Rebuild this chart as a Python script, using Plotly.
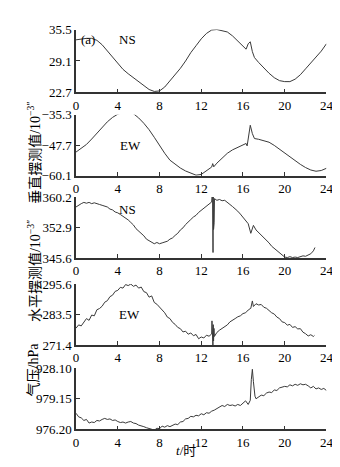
import plotly.graph_objects as go

# ---------------- data ----------------
# Panel 1: vertical pendulum NS
t_vns = [0, 0.5, 1, 1.5, 2, 2.5, 3, 3.5, 4, 4.5, 5, 5.5, 6, 6.5, 7, 7.5, 8, 8.5, 9, 9.5,
         10, 10.5, 11, 11.5, 12, 12.5, 13, 13.5, 14, 14.5, 15, 15.5, 16, 16.3, 16.5, 16.7,
         16.9, 17.1, 17.5, 18, 18.5, 19, 19.5, 20, 20.5, 21, 21.5, 22, 22.5, 23, 23.5, 24]
v_vns = [33.4, 33.6, 33.7, 33.7, 33.3, 32.4, 31.2, 29.9, 28.6, 27.4, 26.5, 25.7, 25.0, 24.2,
         23.3, 22.9, 23.0, 23.8, 25.0, 26.3, 27.6, 29.1, 30.8, 32.2, 33.6, 34.7, 35.4, 35.5,
         35.3, 35.0, 34.2, 33.2, 32.2, 31.5, 32.6, 33.0, 31.0, 29.8, 28.8, 27.6, 26.6, 25.7,
         25.1, 24.9, 24.9, 25.4, 26.3, 27.5, 28.7, 29.8, 31.1, 32.6]

# Panel 2: vertical pendulum EW
t_vew = [0, 0.5, 1, 1.5, 2, 2.5, 3, 3.5, 4, 4.5, 5, 5.5, 6, 6.5, 7, 7.5, 8, 8.5, 9, 9.5,
         10, 10.5, 11, 11.5, 12, 12.5, 13, 13.1, 13.2, 13.5, 14, 14.5, 15, 15.5, 16, 16.3,
         16.4, 16.7, 16.9, 17.1, 17.5, 18, 18.5, 19, 19.5, 20, 20.5, 21, 21.5, 22, 22.5,
         23, 23.5, 24]
v_vew = [-50.5, -49.0, -47.4, -45.2, -42.8, -40.4, -38.2, -36.4, -35.1, -34.4, -34.2, -34.9,
         -36.6, -38.8, -41.4, -44.5, -47.8, -51.0, -53.8, -55.6, -57.0, -58.2, -59.2, -59.9,
         -59.6, -58.2, -56.6, -55.2, -56.5, -55.0, -52.8, -51.0, -49.6, -48.6, -47.6, -47.0,
         -48.0, -39.6, -43.0, -45.0, -45.3, -45.8, -46.5, -47.8, -49.4, -51.0, -52.6, -54.1,
         -55.5, -56.8, -57.8, -58.3, -58.0, -57.1]

# Panel 3: horizontal pendulum NS
t_hns = [0.00, 0.25, 0.50, 0.75, 1.00, 1.25, 1.50, 1.75, 2.00, 2.25, 2.50, 2.75, 3.00, 3.25,
         3.50, 3.75, 4.00, 4.25, 4.50, 4.75, 5.00, 5.25, 5.50, 5.75, 6.00, 6.25, 6.50, 6.75,
         7.00, 7.25, 7.50, 7.75, 8.00, 8.25, 8.50, 8.75, 9.00, 9.25, 9.50, 9.75, 10.00, 10.25,
         10.50, 10.75, 11.00, 11.25, 11.50, 11.75, 12.00, 12.25, 12.50, 12.75, 13.00,
         13.03, 13.06, 13.09, 13.11, 13.13, 13.15, 13.18, 13.21, 13.24, 13.27,
         13.50, 13.75, 14.00, 14.25, 14.50, 14.75, 15.00, 15.25, 15.50, 15.75, 16.00, 16.25,
         16.50, 16.75, 17.00, 17.25, 17.50, 17.75, 18.00, 18.25, 18.50, 18.75, 19.00, 19.25,
         19.50, 19.75, 20.00, 20.25, 20.50, 20.75, 21.00, 21.25, 21.50, 21.75, 22.00, 22.25,
         22.50, 22.75, 22.90]
v_hns = [357.8, 358.3, 358.6, 358.9, 358.7, 358.9, 358.6, 358.8, 358.5, 358.4, 358.2, 358.0,
         357.8, 357.3, 357.1, 356.6, 356.4, 356.0, 355.6, 355.3, 354.7, 354.1, 353.5, 352.6,
         352.1, 351.4, 350.9, 350.1, 349.7, 349.2, 349.0, 349.3, 349.0, 349.2, 349.5, 349.6,
         350.1, 350.4, 351.0, 351.5, 352.3, 352.8, 353.6, 354.1, 354.8, 355.4, 355.8, 356.5,
         357.0, 357.5, 358.1, 358.6, 359.0,
         360.3, 352.5, 360.5, 353.0, 346.9, 360.4, 352.4, 360.2, 354.0, 359.8,
         359.4, 359.6, 359.3, 359.4, 359.0, 358.4, 357.9, 357.4, 356.8, 356.1, 355.4, 354.7,
         353.8, 351.5, 353.4, 352.3, 351.7, 350.9, 350.4, 349.8, 349.2, 348.4, 347.9, 347.4,
         346.9, 346.4, 345.8, 345.7, 345.9, 345.7, 345.8, 345.7, 346.0, 346.1, 346.0, 346.4,
         346.6, 347.3, 348.1]

# Panel 4: horizontal pendulum EW
t_hew = [0.00, 0.25, 0.50, 0.75, 1.00, 1.25, 1.50, 1.75, 2.00, 2.25, 2.50, 2.75, 3.00, 3.25,
         3.50, 3.75, 4.00, 4.25, 4.50, 4.75, 5.00, 5.25, 5.50, 5.75, 6.00, 6.25, 6.50, 6.75,
         7.00, 7.25, 7.50, 7.75, 8.00, 8.25, 8.50, 8.75, 9.00, 9.25, 9.50, 9.75, 10.00, 10.25,
         10.50, 10.75, 11.00, 11.25, 11.50, 11.75, 12.00, 12.25, 12.50, 12.75, 13.00,
         13.03, 13.06, 13.09, 13.12, 13.15, 13.18, 13.22, 13.26,
         13.50, 13.75, 14.00, 14.25, 14.50, 14.75, 15.00, 15.25, 15.50, 15.75, 16.00, 16.25,
         16.50, 16.75, 16.90, 17.00, 17.25, 17.50, 17.75, 18.00, 18.25, 18.50, 18.75, 19.00,
         19.25, 19.50, 19.75, 20.00, 20.25, 20.50, 20.75, 21.00, 21.25, 21.50, 21.75, 22.00,
         22.25, 22.50, 22.75, 22.85]
v_hew = [278.1, 279.4, 279.0, 280.6, 281.9, 281.2, 283.3, 283.0, 285.4, 285.9, 286.8, 288.4,
         289.0, 290.6, 291.2, 292.7, 293.1, 294.3, 294.0, 295.4, 295.0, 295.6, 294.7, 295.2,
         294.0, 294.4, 292.6, 292.2, 290.4, 290.9, 288.3, 287.6, 286.5, 285.0, 284.2, 282.5,
         281.9, 280.4, 279.6, 278.4, 277.9, 276.6, 276.9, 275.7, 276.2, 275.1, 275.6, 273.9,
         274.6, 274.2, 275.3, 274.9, 275.8,
         281.0, 272.5, 280.4, 271.2, 279.5, 273.0, 278.0, 274.8,
         276.4, 277.3, 277.9, 278.8, 279.4, 280.6, 281.1, 281.9, 282.6, 283.0, 283.9, 284.2,
         285.3, 286.0, 288.9, 286.7, 287.8, 287.3, 287.5, 286.4, 286.0, 285.1, 284.2, 283.7,
         282.5, 281.9, 280.6, 280.3, 279.3, 279.6, 278.4, 278.7, 277.8, 277.9, 276.5, 275.9,
         275.0, 275.5, 274.8, 275.2]

# Panel 5: air pressure
t_p = [0.00, 0.25, 0.50, 0.75, 1.00, 1.25, 1.50, 1.75, 2.00, 2.25, 2.50, 2.75, 3.00, 3.25,
       3.50, 3.75, 4.00, 4.25, 4.50, 4.75, 5.00, 5.25, 5.50, 5.75, 6.00, 6.25, 6.50, 6.75,
       7.00, 7.25, 7.50, 7.75, 8.00, 8.25, 8.50, 8.75, 9.00, 9.25, 9.50, 9.75, 10.00, 10.25,
       10.50, 10.75, 11.00, 11.25, 11.50, 11.75, 12.00, 12.25, 12.50, 12.75, 13.00, 13.25,
       13.50, 13.75, 14.00, 14.25, 14.50, 14.75, 15.00, 15.25, 15.50, 15.75, 16.00, 16.25,
       16.50, 16.70, 16.80, 16.90, 17.00, 17.15, 17.25, 17.50, 17.75, 18.00, 18.25, 18.50,
       18.75, 19.00, 19.25, 19.50, 19.75, 20.00, 20.25, 20.50, 20.75, 21.00, 21.25, 21.50,
       21.75, 22.00, 22.25, 22.50, 22.75, 23.00, 23.25, 23.50, 23.75, 24.00]
v_p = [977.75, 977.40, 977.30, 977.05, 977.15, 976.80, 976.90, 976.85, 977.05, 977.00,
       977.15, 977.25, 977.15, 977.20, 977.05, 977.10, 976.95, 976.85, 976.90, 976.80,
       976.90, 976.95, 976.80, 976.75, 976.60, 976.55, 976.45, 976.35, 976.30, 976.20,
       976.10, 976.30, 976.25, 976.50, 976.40, 976.55, 976.45, 976.60, 976.70, 976.65,
       976.90, 976.95, 977.20, 977.25, 977.45, 977.40, 977.55, 977.50, 977.70, 977.60,
       977.80, 977.75, 977.95, 978.05, 978.20, 978.35, 978.50, 978.40, 978.60, 978.50,
       978.55, 978.45, 978.60, 978.50, 978.70, 978.95, 978.60, 979.00, 981.00, 982.00,
       980.80, 979.40, 979.15, 979.30, 979.50, 979.45, 979.70, 979.80, 979.75, 980.00,
       979.95, 980.20, 980.25, 980.35, 980.30, 980.50, 980.40, 980.55, 980.45, 980.60,
       980.50, 980.55, 980.40, 980.20, 980.35, 980.10, 980.20, 980.05, 980.15, 979.95]

x_ticks = [0, 4, 8, 12, 16, 20, 24]
y_ticks = [[22.7, 29.1, 35.5], [-60.1, -47.7, -35.3], [345.6, 352.9, 360.2],
           [271.4, 283.5, 295.6], [976.20, 979.15, 982.10]]
y_ticktext = [["22.7", "29.1", "35.5"], ["\u221260.1", "\u221247.7", "\u221235.3"],
              ["345.6", "352.9", "360.2"], ["271.4", "283.5", "295.6"],
              ["976.20", "979.15", "928.10"]]
panel_labels = ["NS", "EW", "NS", "EW"]

# ---------------- figure ----------------
W, H = 340, 467
series = [(t_vns, v_vns), (t_vew, v_vew), (t_hns, v_hns), (t_hew, v_hew), (t_p, v_p)]
# pixel top/bottom of each panel's plotting area
panel_px = [(15, 80), (103, 166), (188, 251), (278, 341), (365, 428)]

SERIF = "Liberation Serif, Times New Roman, serif"
AXC = "#333333"

fig = go.Figure()
layout = dict(width=W, height=H, margin=dict(l=0, r=0, t=0, b=0),
              paper_bgcolor="white", plot_bgcolor="white", showlegend=False,
              font=dict(family=SERIF, size=13, color="black"))

x0, x1 = 67 / W, 325 / W
for i, ((tt, vv), (ptop, pbot)) in enumerate(zip(series, panel_px)):
    n = "" if i == 0 else str(i + 1)
    fig.add_trace(go.Scatter(x=tt, y=vv, mode="lines",
                             line=dict(color="#3a3a3a", width=1),
                             xaxis="x" + n, yaxis="y" + n))
    layout["xaxis" + n] = dict(domain=[x0, x1], range=[0, 24], anchor="y" + n,
                               tickvals=x_ticks, ticks="inside", ticklen=4,
                               tickcolor=AXC, showline=True, linecolor=AXC,
                               linewidth=1.5, showgrid=False, zeroline=False,
                               tickfont=dict(family=SERIF, size=13, color="black"))
    lo, hi = y_ticks[i][0], y_ticks[i][-1]
    layout["yaxis" + n] = dict(domain=[1 - pbot / H, 1 - ptop / H], range=[lo, hi],
                               anchor="x" + n, tickvals=y_ticks[i],
                               ticktext=y_ticktext[i], ticks="inside", ticklen=4,
                               tickcolor=AXC, showline=True, linecolor=AXC,
                               linewidth=1.5, showgrid=False, zeroline=False,
                               tickfont=dict(family=SERIF, size=13, color="black"))

fig.update_layout(**layout)

ann = []
# panel texts
ann.append(dict(text="(a)", x=0.3, y=35.5, xref="x", yref="y", xanchor="left",
                yanchor="top", showarrow=False, font=dict(family=SERIF, size=13)))
label_pos = [(4.9, 33.5, "x", "y"), (5.2, -48.0, "x2", "y2"),
             (4.9, 357.3, "x3", "y3"), (5.1, 283.4, "x4", "y4")]
for lab, (lx, ly, xr, yr) in zip(panel_labels, label_pos):
    ann.append(dict(text=lab, x=lx, y=ly, xref=xr, yref=yr, showarrow=False,
                    font=dict(family=SERIF, size=13)))

CJK = "Liberation Serif, Noto Sans CJK SC"
ann.append(dict(text="垂直摆测值/10<sup>\u22123\u2033</sup>", x=13 / W, y=1 - 88 / H,
                xref="paper", yref="paper", textangle=-90, showarrow=False,
                font=dict(family=CJK, size=14)))
ann.append(dict(text="水平摆测值/10<sup>\u22123\u2033</sup>", x=13 / W, y=1 - 265 / H,
                xref="paper", yref="paper", textangle=-90, showarrow=False,
                font=dict(family=CJK, size=14)))
ann.append(dict(text="气压/hPa", x=13 / W, y=1 - 396 / H,
                xref="paper", yref="paper", textangle=-90, showarrow=False,
                font=dict(family=CJK, size=14)))
ann.append(dict(text="<i>t</i>/时", x=180 / W, y=1 - 460 / H, xref="paper", yref="paper",
                showarrow=False, font=dict(family=CJK, size=13)))
fig.update_layout(annotations=ann)

fig.write_html("out.html")
